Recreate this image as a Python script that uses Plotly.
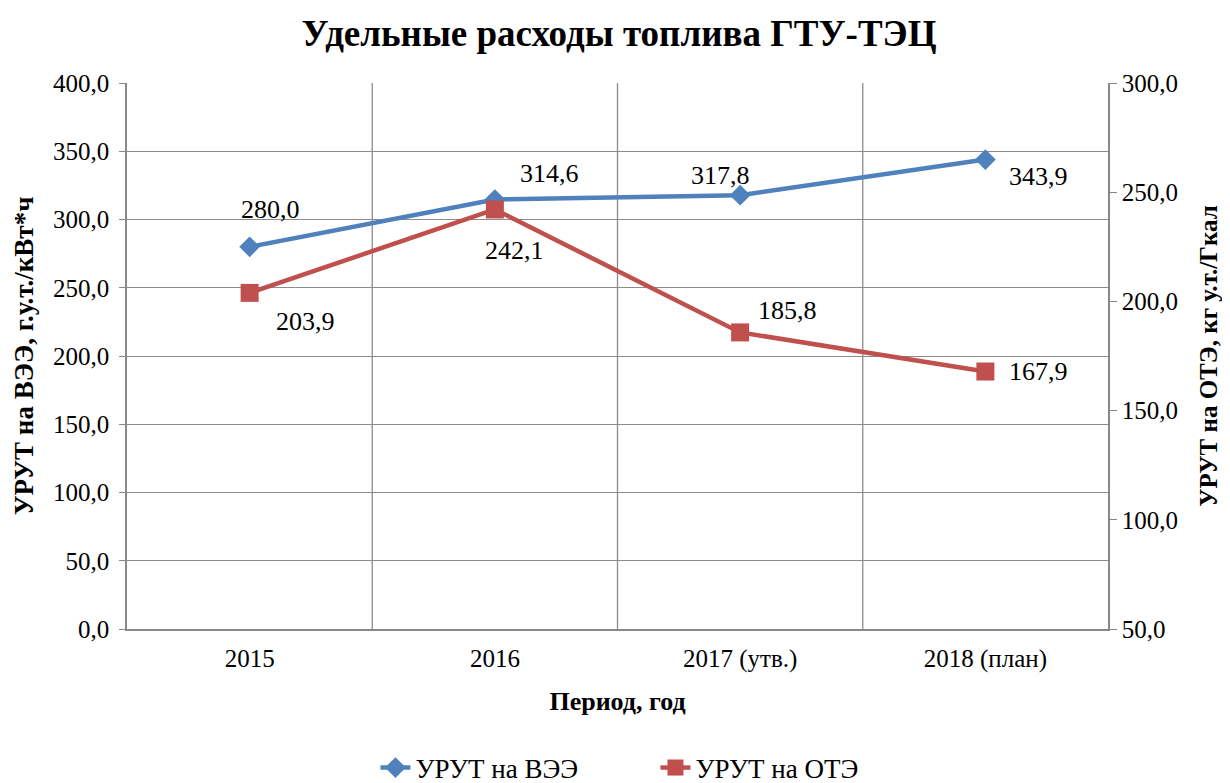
import plotly.graph_objects as go

categories = ["2015", "2016", "2017 (утв.)", "2018 (план)"]
urut_vee = [280.0, 314.6, 317.8, 343.9]
urut_ote = [203.9, 242.1, 185.8, 167.9]

vee_label_shift = [(21, 37), (55, 26), (-20, 20), (53, -17)]
ote_label_shift = [(56, -29), (20, -41), (47, 22), (53, 0)]

BLUE = "#4F81BD"
RED = "#C0504D"
FONT = "Liberation Serif, Times New Roman, serif"

def fmt(v):
    return f"{v:.1f}".replace(".", ",")

xpos = list(range(len(categories)))
left_ticks = [0, 50, 100, 150, 200, 250, 300, 350, 400]
right_ticks = [50, 100, 150, 200, 250, 300]

fig = go.Figure()
fig.add_trace(go.Scatter(
    x=xpos, y=urut_vee, name="УРУТ на ВЭЭ", mode="lines+markers",
    line=dict(color=BLUE, width=4.5),
    marker=dict(symbol="diamond", size=16, color=BLUE),
    yaxis="y"))
fig.add_trace(go.Scatter(
    x=xpos, y=urut_ote, name="УРУТ на ОТЭ", mode="lines+markers",
    line=dict(color=RED, width=4.5),
    marker=dict(symbol="square", size=18, color=RED),
    yaxis="y2"))

annotations = []
for i, v, (dx, dy) in zip(xpos, urut_vee, vee_label_shift):
    annotations.append(dict(x=i, y=v, xref="x", yref="y", text=fmt(v), showarrow=False,
                            xshift=dx, yshift=dy, font=dict(family=FONT, size=26, color="black")))
for i, v, (dx, dy) in zip(xpos, urut_ote, ote_label_shift):
    annotations.append(dict(x=i, y=v, xref="x", yref="y2", text=fmt(v), showarrow=False,
                            xshift=dx, yshift=dy, font=dict(family=FONT, size=26, color="black")))

fig.update_layout(
    width=1222, height=775,
    paper_bgcolor="white", plot_bgcolor="white",
    margin=dict(l=119, r=122, t=75, b=154),
    font=dict(family=FONT, size=25, color="black"),
    title=dict(text="<b>Удельные расходы топлива ГТУ-ТЭЦ</b>", x=0.5, xanchor="center",
               yref="container", y=1 - 25 / 775, yanchor="middle",
               font=dict(family=FONT, size=37, color="black")),
    xaxis=dict(
        range=[-0.5, len(categories) - 0.5], tickvals=xpos, ticktext=categories,
        showgrid=False, showline=True, linecolor="#888888", linewidth=1.5,
        ticks="", tickfont=dict(family=FONT, size=25), ticklabelstandoff=6,
        title=dict(text="<b>Период, год</b>", font=dict(family=FONT, size=26), standoff=20),
        zeroline=False,
    ),
    yaxis=dict(
        range=[0, 400], tickvals=left_ticks, ticktext=[fmt(v) for v in left_ticks],
        showgrid=True, gridcolor="#8C8C8C",
        gridwidth=1.3, showline=True, linecolor="#888888", linewidth=1.5, ticks="outside",
        ticklen=6, tickcolor="#888888", tickfont=dict(family=FONT, size=25), zeroline=False,
        ticklabelstandoff=5,
        title=dict(text="<b>УРУТ на ВЭЭ, г.у.т./кВт*ч</b>", font=dict(family=FONT, size=27), standoff=12),
    ),
    yaxis2=dict(
        range=[50, 300], tickvals=right_ticks, ticktext=[fmt(v) for v in right_ticks],
        overlaying="y", side="right",
        showgrid=False, showline=True, linecolor="#888888", linewidth=1.5, ticks="outside",
        ticklen=7, tickcolor="#888888", tickfont=dict(family=FONT, size=25), zeroline=False,
        title=dict(text="<b>УРУТ на ОТЭ, кг у.т./Гкал</b>", font=dict(family=FONT, size=25), standoff=22),
    ),
    legend=dict(orientation="h", x=0.5387, xanchor="center", yref="container",
                y=1 - 760 / 775, yanchor="middle", entrywidth=235, entrywidthmode="pixels",
                font=dict(family=FONT, size=27)),
    annotations=annotations,
    shapes=[dict(type="line", xref="x", yref="paper", x0=x, x1=x, y0=0, y1=1,
                 line=dict(color="#8C8C8C", width=1.3), layer="below") for x in [0.5, 1.5, 2.5]],
)

fig.write_html("out.html")
